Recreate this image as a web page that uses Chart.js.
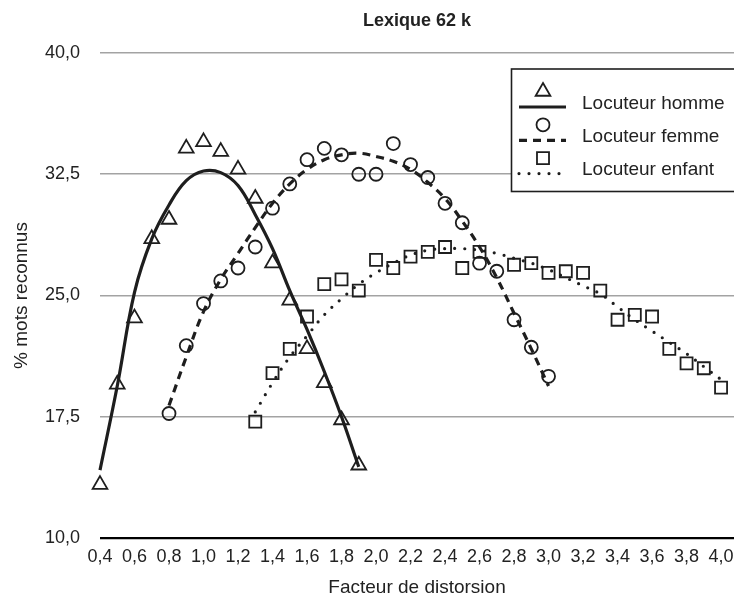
<!DOCTYPE html>
<html>
<head>
<meta charset="utf-8">
<title>Lexique 62 k</title>
<script src="https://cdn.jsdelivr.net/npm/chart.js@4.4.0/dist/chart.umd.min.js"></script>
<style>
  html, body { margin: 0; padding: 0; background: #fff; }
  canvas { display: block; }
</style>
</head>
<body>
<canvas id="myChart" width="734" height="601"></canvas>
<script>
// measured points (% mots reconnus vs facteur de distorsion)
var hommeX = [0.4, 0.5, 0.6, 0.7, 0.8, 0.9, 1.0, 1.1, 1.2, 1.3, 1.4, 1.5, 1.6, 1.7, 1.8, 1.9];
var hommeY = [13.3, 19.5, 23.6, 28.5, 29.7, 34.1, 34.5, 33.9, 32.8, 31.0, 27.0, 24.7, 21.7, 19.6, 17.3, 14.5];

var femmeX = [0.8, 0.9, 1.0, 1.1, 1.2, 1.3, 1.4, 1.5, 1.6, 1.7, 1.8, 1.9, 2.0, 2.1, 2.2, 2.3, 2.4, 2.5, 2.6, 2.7, 2.8, 2.9, 3.0];
var femmeY = [17.7, 21.9, 24.5, 25.9, 26.7, 28.0, 30.4, 31.9, 33.4, 34.1, 33.7, 32.5, 32.5, 34.4, 33.1, 32.3, 30.7, 29.5, 27.0, 26.5, 23.5, 21.8, 20.0];

var enfantX = [1.3, 1.4, 1.5, 1.6, 1.7, 1.8, 1.9, 2.0, 2.1, 2.2, 2.3, 2.4, 2.5, 2.6, 2.8, 2.9, 3.0, 3.1, 3.2, 3.3, 3.4, 3.5, 3.6, 3.7, 3.8, 3.9, 4.0];
var enfantY = [17.2, 20.2, 21.7, 23.7, 25.7, 26.0, 25.3, 27.2, 26.7, 27.4, 27.7, 28.0, 26.7, 27.7, 26.9, 27.0, 26.4, 26.5, 26.4, 25.3, 23.5, 23.8, 23.7, 21.7, 20.8, 20.5, 19.3];

// fitted curves
var fitHommeX = [0.4, 0.5, 0.6, 0.7, 0.8, 0.9, 1.0, 1.1, 1.2, 1.3, 1.4, 1.5, 1.6, 1.7, 1.8, 1.9];
var fitHommeY = [14.2, 19.4, 25.2, 28.5, 30.6, 32.1, 32.7, 32.6, 31.8, 30.0, 27.9, 25.3, 22.9, 20.3, 17.5, 14.4];

var fitFemmeX = [0.8, 0.9, 1.0, 1.1, 1.2, 1.3, 1.4, 1.5, 1.6, 1.7, 1.8, 1.9, 2.0, 2.1, 2.2, 2.3, 2.4, 2.5, 2.6, 2.7, 2.8, 2.9, 3.0];
var fitFemmeY = [18.2, 21.2, 24.0, 26.0, 27.6, 29.2, 30.7, 31.9, 32.8, 33.4, 33.7, 33.8, 33.6, 33.3, 32.8, 32.0, 31.0, 29.6, 28.0, 26.1, 23.9, 21.7, 19.4];

var fitEnfantX = [1.3, 1.4, 1.5, 1.6, 1.7, 1.8, 1.9, 2.0, 2.1, 2.2, 2.3, 2.4, 2.5, 2.6, 2.7, 2.8, 2.9, 3.0, 3.1, 3.2, 3.3, 3.4, 3.5, 3.6, 3.7, 3.8, 3.9, 4.0];
var fitEnfantY = [17.8, 19.6, 21.2, 22.5, 23.8, 24.8, 25.7, 26.4, 27.0, 27.5, 27.8, 27.9, 27.9, 27.8, 27.6, 27.3, 27.0, 26.6, 26.1, 25.6, 25.1, 24.3, 23.5, 22.8, 22.1, 21.4, 20.6, 19.8];

var xTicks = [0.4, 0.6, 0.8, 1.0, 1.2, 1.4, 1.6, 1.8, 2.0, 2.2, 2.4, 2.6, 2.8, 3.0, 3.2, 3.4, 3.6, 3.8, 4.0];
var yTicks = [10, 17.5, 25, 32.5, 40];

var labels = ["Locuteur homme", "Locuteur femme", "Locuteur enfant"];

var ink = '#1e1e1e';
var xMax = 4.075; // plot runs a bit past the last tick, up to the right edge
Chart.defaults.font.family = "'Liberation Sans', Arial, sans-serif";
Chart.defaults.font.size = 18;
Chart.defaults.color = '#222';

function pts(xs, ys) {
  return xs.map(function (x, i) { return {x: x, y: ys[i]}; });
}
function comma(v) {
  return Number(v).toFixed(1).replace('.', ',');
}

function markerSet(label, xs, ys, style, r) {
  return {
    label: label,
    data: pts(xs, ys),
    showLine: false,
    clip: false,
    pointStyle: style,
    pointRadius: r,
    pointBorderWidth: 1.8,
    pointBorderColor: ink,
    pointBackgroundColor: 'rgba(0,0,0,0)',
    order: 1
  };
}
function fitSet(xs, ys, dash, cap) {
  return {
    data: pts(xs, ys),
    showLine: true,
    clip: false,
    pointRadius: 0,
    borderColor: ink,
    borderWidth: 3.2,
    borderDash: dash,
    borderCapStyle: cap,
    tension: 0.4,
    order: 2
  };
}

// boxed legend: marker above a line sample, label to the right
var boxLegend = {
  id: 'boxLegend',
  afterDraw: function (chart) {
    var ctx = chart.ctx;
    var ds = chart.data.datasets;
    ctx.save();
    ctx.fillStyle = '#fff';
    ctx.fillRect(511.5, 69, 240, 122.5);
    ctx.strokeStyle = ink;
    ctx.lineWidth = 1.6;
    ctx.strokeRect(511.5, 69, 240, 122.5);
    for (var i = 0; i < 3; i++) {
      var m = ds[i * 2], f = ds[i * 2 + 1];
      var ty = 103.5 + i * 33.3;
      ctx.strokeStyle = ink;
      ctx.setLineDash(f.borderDash || []);
      ctx.lineCap = f.borderCapStyle || 'butt';
      ctx.lineWidth = f.borderWidth;
      ctx.beginPath();
      ctx.moveTo(519, ty + 3.5);
      ctx.lineTo(566, ty + 3.5);
      ctx.stroke();
      ctx.setLineDash([]);
      ctx.lineCap = 'butt';
      ctx.lineWidth = m.pointBorderWidth;
      ctx.fillStyle = 'rgba(0,0,0,0)';
      Chart.helpers.drawPoint(ctx, {pointStyle: m.pointStyle, radius: m.pointRadius, rotation: 0, borderWidth: m.pointBorderWidth}, 543, ty - 12);
      ctx.fillStyle = '#222';
      ctx.font = "19px 'Liberation Sans', Arial, sans-serif";
      ctx.textBaseline = 'middle';
      ctx.textAlign = 'left';
      ctx.fillText(m.label, 582, ty);
    }
    ctx.restore();
  }
};

var config = {
  type: 'scatter',
  data: {
    datasets: [
      markerSet(labels[0], hommeX, hommeY, 'triangle', 8.5),
      fitSet(fitHommeX, fitHommeY, [], 'butt'),
      markerSet(labels[1], femmeX, femmeY, 'circle', 6.5),
      fitSet(fitFemmeX, fitFemmeY, [8, 6], 'butt'),
      markerSet(labels[2], enfantX, enfantY, 'rect', 8.5),
      fitSet(fitEnfantX, fitEnfantY, [0, 10], 'round')
    ]
  },
  options: {
    responsive: false,
    animation: false,
    events: [],
    layout: { padding: 0, autoPadding: false },
    plugins: {
      legend: { display: false },
      tooltip: { enabled: false },
      title: {
        display: true,
        text: 'Lexique 62 k',
        fullSize: false,
        font: { size: 18, weight: 'bold' },
        color: '#222',
        padding: { top: 10, bottom: 21.4 }
      }
    },
    scales: {
      x: {
        type: 'linear',
        min: 0.4,
        max: xMax,
        afterBuildTicks: function (scale) {
          scale.ticks = xTicks.map(function (v) { return {value: v}; });
        },
        afterFit: function (scale) {
          scale.height = 63;
          scale.paddingLeft = 0;
          scale.paddingRight = 0;
        },
        grid: { display: false, drawTicks: false },
        border: { display: false },
        ticks: {
          padding: 8,
          autoSkip: false,
          maxRotation: 0,
          callback: function (v) { return comma(v); }
        },
        title: {
          display: true,
          text: 'Facteur de distorsion',
          font: { size: 19 },
          padding: { top: 0, bottom: 2 }
        }
      },
      y: {
        min: 10,
        max: 40,
        afterBuildTicks: function (scale) {
          scale.ticks = yTicks.map(function (v) { return {value: v}; });
        },
        afterFit: function (scale) {
          scale.width = 100;
        },
        grid: {
          drawTicks: false,
          color: function (c) { return c.tick && c.tick.value === 10 ? '#000' : '#a3a3a3'; },
          lineWidth: function (c) { return c.tick && c.tick.value === 10 ? 2.2 : 1.6; }
        },
        border: { display: false },
        ticks: {
          padding: 20,
          callback: function (v) { return comma(v); }
        },
        title: {
          display: true,
          text: '% mots reconnus',
          font: { size: 19 },
          padding: { top: 10, bottom: 0 }
        }
      }
    }
  },
  plugins: [boxLegend]
};

var myChart = new Chart(document.getElementById('myChart'), config);
</script>
</body>
</html>
